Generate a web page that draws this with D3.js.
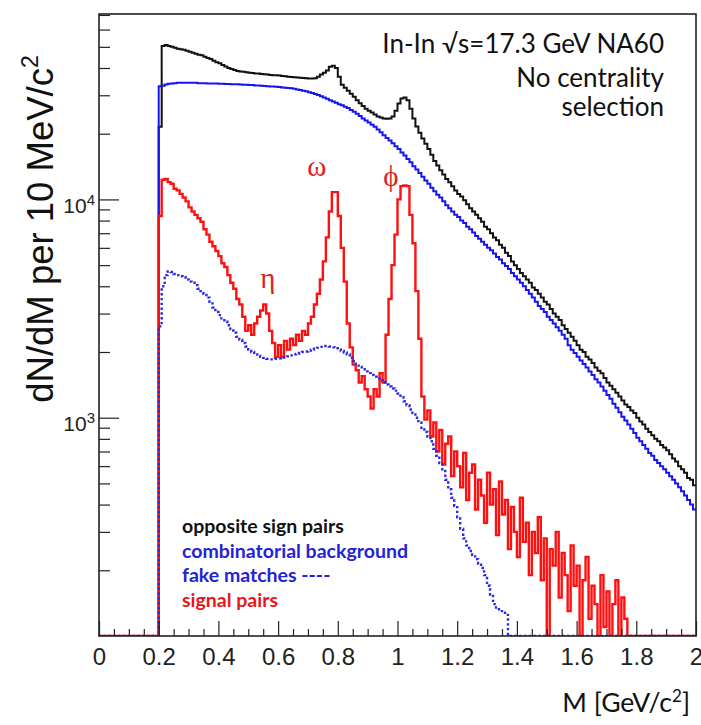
<!DOCTYPE html>
<html>
<head>
<meta charset="utf-8">
<script src="https://cdn.jsdelivr.net/npm/d3@7"></script>
<style>
  html, body { margin: 0; padding: 0; background: #fff; }
  svg { display: block; }
</style>
</head>
<body>
<svg id="chart" width="701" height="725"></svg>
<script>
// Dimuon invariant-mass spectra, 10 MeV bins from 0.20 to 2.00 GeV/c^2
const binStart = 0.20;
const binWidth = 0.01;

// opposite sign pairs
const oppositeSign = [
  21500, 50500, 51000, 50500, 50000, 49500, 49000, 48800, 48500, 48000,
  47500, 47000, 46500, 46000, 45800, 45000, 44500, 44000, 43200, 42500,
  42000, 41300, 40600, 40000, 39600, 39200, 38800, 38500, 38400, 38200,
  38000, 37900, 37700, 37700, 37500, 37400, 37300, 37200, 37100, 37100,
  37000, 36800, 36700, 36500, 36400, 36300, 36200, 36100, 36000, 35900,
  35800, 35800, 35900, 36500, 37300, 38000, 39000, 40500, 41000, 40000,
  36500, 33500, 32500, 31500, 30500, 29500, 28500, 27600, 26800, 26000,
  25500, 25000, 24500, 24000, 23700, 23500, 23400, 23500, 24000, 25500,
  27500, 29000, 29300, 28500, 26000, 23500, 21600, 20200, 19000, 18000,
  17000, 16000, 15000, 14300, 13600, 13000, 12400, 12000, 11500, 11000,
  10600, 10300, 9900, 9500, 9100, 8800, 8500, 8200, 7900, 7500,
  7300, 7000, 6700, 6500, 6200, 6000, 5700, 5500, 5200, 5000,
  4800, 4600, 4450, 4300, 4150, 3950, 3850, 3700, 3550, 3400,
  3300, 3150, 3000, 2900, 2800, 2650, 2550, 2450, 2350, 2250,
  2150, 2050, 2000, 1900, 1850, 1780, 1700, 1640, 1600, 1520,
  1450, 1400, 1350, 1300, 1250, 1200, 1150, 1120, 1080, 1050,
  1000, 960, 930, 890, 860, 830, 800, 780, 750, 730,
  710, 680, 650, 630, 600, 580, 560, 530, 520, 490
];

// combinatorial background
const combinatorial = [
  33000, 33200, 33600, 33900, 34000, 34100, 34200, 34200, 34200, 34200,
  34200, 34200, 34200, 34100, 34100, 34100, 34000, 34000, 34000, 34000,
  33900, 33900, 33800, 33800, 33700, 33700, 33700, 33600, 33500, 33500,
  33400, 33400, 33300, 33300, 33200, 33100, 33000, 32900, 32900, 32800,
  32700, 32600, 32500, 32400, 32300, 32100, 31900, 31700, 31500, 31300,
  31000, 30700, 30400, 30100, 29700, 29300, 28900, 28500, 28100, 27700,
  27300, 27000, 26600, 26200, 25700, 25200, 24700, 24100, 23500, 23000,
  22500, 22000, 21500, 20900, 20300, 19700, 19100, 18600, 18100, 17500,
  17000, 16400, 15900, 15300, 14800, 14200, 13700, 13200, 12700, 12200,
  11800, 11300, 10900, 10500, 10200, 9800, 9400, 9100, 8800, 8500,
  8300, 8000, 7800, 7500, 7300, 7050, 6800, 6600, 6400, 6200,
  6000, 5850, 5650, 5450, 5300, 5100, 4950, 4800, 4600, 4450,
  4300, 4150, 4000, 3850, 3700, 3550, 3400, 3250, 3150, 3050,
  2900, 2800, 2700, 2600, 2500, 2400, 2300, 2150, 2050, 1980,
  1900, 1830, 1760, 1700, 1630, 1570, 1500, 1450, 1390, 1330,
  1270, 1220, 1160, 1110, 1060, 1010, 970, 930, 890, 850,
  810, 780, 750, 720, 690, 670, 640, 620, 600, 580,
  560, 540, 520, 500, 480, 460, 440, 420, 400, 380
];

// fake matches
const fakeMatches = [
  2620, 4000, 4500, 4680, 4650, 4550, 4500, 4450, 4400, 4300,
  4200, 4150, 4050, 3900, 3800, 3700, 3550, 3400, 3200, 3050,
  2950, 2850, 2750, 2650, 2550, 2450, 2350, 2280, 2200, 2120,
  2050, 2000, 1950, 1920, 1900, 1880, 1860, 1850, 1850, 1860,
  1870, 1880, 1900, 1910, 1930, 1950, 1960, 1980, 2000, 2010,
  2030, 2050, 2070, 2090, 2110, 2130, 2130, 2120, 2100, 2080,
  2050, 2020, 1990, 1950, 1880, 1820, 1760, 1710, 1670, 1630,
  1600, 1570, 1540, 1510, 1480, 1450, 1420, 1390, 1360, 1330,
  1290, 1240, 1190, 1140, 1090, 1050, 1000, 950, 900, 860,
  820, 780, 720, 670, 620, 570, 520, 470, 430, 395,
  350, 310, 280, 260, 245, 235, 225, 215, 205, 190,
  170, 155, 140, 135, 130, 128, 125, 0, 0, 0,
  0, 0, 0, 0, 0, 0, 0, 0, 0, 0,
  0, 0, 0, 0, 0, 0, 0, 0, 0, 0,
  0, 0, 0, 0, 0, 0, 0, 0, 0, 0,
  0, 0, 0, 0, 0, 0, 0, 0, 0, 0,
  0, 0, 0, 0, 0, 0, 0, 0, 0, 0,
  0, 0, 0, 0, 0, 0, 0, 0, 0, 0
];

// signal pairs
const signal = [
  8400, 12300, 12400, 12000, 11800, 11200, 11000, 10600, 10200, 9800,
  9200, 8800, 8500, 8200, 7900, 7300, 6900, 6400, 6100, 5800,
  5500, 5100, 4900, 4500, 4150, 3900, 3500, 3300, 2900, 2500,
  2650, 2400, 2700, 2900, 3100, 3300, 3000, 2500, 2200, 1900,
  2150, 1900, 2250, 2050, 2300, 2150, 2400, 2250, 2500, 2400,
  2700, 2900, 3300, 3700, 4300, 5200, 6700, 8800, 10800, 10800,
  8400, 6000, 4200, 2700, 2100, 1750, 1650, 1450, 1550, 1350,
  1250, 1100, 1350, 1250, 1600, 1450, 2400, 3500, 5000, 6900,
  10000, 11500, 11600, 11500, 8500, 6300, 3800, 2300, 1250, 980,
  1080, 820, 950, 700, 880, 610, 760, 820, 540, 700,
  600, 480, 690, 420, 560, 610, 380, 520, 440, 330,
  560, 400, 470, 290, 510, 360, 420, 250, 390, 300,
  230, 430, 270, 330, 190, 300, 240, 350, 180, 280,
  60, 250, 210, 300, 150, 240, 190, 130, 260, 170,
  210, 60, 180, 230, 120, 170, 140, 60, 190, 110,
  160, 60, 140, 180, 60, 150, 120, 0, 0, 0,
  0, 0, 0, 0, 0, 0, 0, 0, 0, 0,
  0, 0, 0, 0, 0, 0, 0, 0, 0, 0
];

const xMajorTicks = [0, 0.2, 0.4, 0.6, 0.8, 1, 1.2, 1.4, 1.6, 1.8, 2];
const yLabelTicks = [1e3, 1e4];

const legendItems = [
  { label: "opposite sign pairs", color: "#111111" },
  { label: "combinatorial background", color: "#2323d6" },
  { label: "fake matches ----", color: "#2323d6" },
  { label: "signal pairs", color: "#e8161b" }
];

const infoLines = ["In-In \u221As=17.3 GeV NA60", "No centrality", "selection"];

const resonances = [
  { name: "\u03c9", m: 0.73, v: 12740 },
  { name: "\u03d5", m: 0.978, v: 11470 },
  { name: "\u03b7", m: 0.566, v: 3910 }
];

// ---------------------------------------------------------------
const svg = d3.select("#chart");
const frame = { left: 99, right: 696, top: 14, bottom: 636 };

const x = d3.scaleLinear().domain([0, 2]).range([frame.left, frame.right]);
const y = d3.scaleLog().domain([100, 70700]).range([frame.bottom, frame.top]).clamp(true);
const yFloor = y.domain()[0];

svg.append("defs").append("clipPath").attr("id", "plotClip")
  .append("rect")
  .attr("x", frame.left).attr("y", frame.top)
  .attr("width", frame.right - frame.left).attr("height", frame.bottom - frame.top);

// Step-histogram outline, starting on the floor at M = 0
function histPoints(values) {
  const pts = [[0, yFloor], [binStart, yFloor]];
  values.forEach((v, i) => pts.push([binStart + i * binWidth, Math.max(v, yFloor)]));
  pts.push([binStart + values.length * binWidth, Math.max(values[values.length - 1], yFloor)]);
  return pts;
}

const line = d3.line()
  .x(d => x(d[0]))
  .y(d => y(d[1]))
  .curve(d3.curveStepAfter);

const plot = svg.append("g").attr("clip-path", "url(#plotClip)");

plot.append("path").attr("d", line(histPoints(oppositeSign)))
  .attr("fill", "none").attr("stroke", "#111").attr("stroke-width", 2);
plot.append("path").attr("d", line(histPoints(combinatorial)))
  .attr("fill", "none").attr("stroke", "#1515f0").attr("stroke-width", 2);
plot.append("path").attr("d", line(histPoints(signal)))
  .attr("fill", "none").attr("stroke", "#ff1010").attr("stroke-width", 2.4);
plot.append("path").attr("d", line(histPoints(fakeMatches)))
  .attr("fill", "none").attr("stroke", "#2a2ae0").attr("stroke-width", 2.4)
  .attr("stroke-dasharray", "2.4,2.4");

// Axes with ticks pointing into the frame
const xMinor = d3.range(0, 2.0001, 0.05).filter(t => Math.abs(t / 0.2 - Math.round(t / 0.2)) > 1e-6);

svg.append("g")
  .attr("transform", `translate(0,${frame.bottom})`)
  .call(d3.axisBottom(x).tickValues(xMinor).tickSize(-7).tickFormat(""))
  .call(g => g.select(".domain").remove())
  .call(g => g.selectAll("line").attr("stroke", "#222").attr("stroke-width", 1.2));

const xAxis = svg.append("g")
  .attr("transform", `translate(0,${frame.bottom})`)
  .call(d3.axisBottom(x).tickValues(xMajorTicks).tickSize(-15).tickPadding(12)
    .tickFormat(d => d3.format("")(+d.toFixed(1))))
  .call(g => g.select(".domain").remove());
xAxis.selectAll("line").attr("stroke", "#222").attr("stroke-width", 1.2);
xAxis.selectAll("text")
  .attr("font-family", "Liberation Sans, Arial, sans-serif")
  .attr("font-size", 24).attr("fill", "#222");

const yMinor = [];
[100, 1000, 10000].forEach(dec => {
  for (let k = 2; k <= 9; k++) {
    const v = k * dec;
    if (v < y.domain()[1]) yMinor.push(v);
  }
});

svg.append("g")
  .attr("transform", `translate(${frame.left},0)`)
  .call(d3.axisLeft(y).tickValues(yMinor).tickSize(-11).tickFormat(""))
  .call(g => g.select(".domain").remove())
  .call(g => g.selectAll("line").attr("stroke", "#222").attr("stroke-width", 1.2));

const yAxis = svg.append("g")
  .attr("transform", `translate(${frame.left},0)`)
  .call(d3.axisLeft(y).tickValues(yLabelTicks).tickSize(-20).tickFormat(""))
  .call(g => g.select(".domain").remove());
yAxis.selectAll("line").attr("stroke", "#222").attr("stroke-width", 1.2);
yAxis.selectAll(".tick").each(function (d) {
  const t = d3.select(this).append("text")
    .attr("x", -4).attr("y", 13)
    .attr("text-anchor", "end")
    .attr("font-family", "Liberation Sans, Arial, sans-serif")
    .attr("font-size", 21).attr("fill", "#222");
  t.append("tspan").text("10");
  t.append("tspan").attr("font-size", 15).attr("dy", -8).text(String(Math.round(Math.log10(d))));
});

// Frame
svg.append("rect")
  .attr("x", frame.left).attr("y", frame.top)
  .attr("width", frame.right - frame.left).attr("height", frame.bottom - frame.top)
  .attr("fill", "none").attr("stroke", "#222").attr("stroke-width", 1.6);

// Axis titles
const yTitle = svg.append("text")
  .attr("transform", "translate(53,229) rotate(-90)")
  .attr("text-anchor", "middle")
  .attr("font-family", "Liberation Sans, Arial, sans-serif")
  .attr("font-size", 36.5).attr("fill", "#111");
yTitle.append("tspan").text("dN/dM per 10 MeV/c");
yTitle.append("tspan").attr("font-size", 23).attr("dy", -15).text("2");

const xTitle = svg.append("text")
  .attr("x", 690).attr("y", 712)
  .attr("text-anchor", "end")
  .attr("font-family", "Lato, Open Sans, sans-serif")
  .attr("font-size", 26.5).attr("fill", "#111");
xTitle.append("tspan").text("M [GeV/c");
xTitle.append("tspan").attr("font-size", 17).attr("dy", -10).text("2");
xTitle.append("tspan").attr("dy", 10).text("]");

// Run information
svg.append("g").selectAll("text").data(infoLines).join("text")
  .attr("x", 664).attr("y", (d, i) => [53, 87, 116][i])
  .attr("text-anchor", "end")
  .attr("font-family", "Lato, Open Sans, sans-serif")
  .attr("font-size", 26).attr("fill", "#111")
  .text(d => d);

// Resonance labels near their peaks
svg.append("g").selectAll("text").data(resonances).join("text")
  .attr("x", d => x(d.m)).attr("y", d => y(d.v))
  .attr("text-anchor", "middle")
  .attr("font-family", "Liberation Serif, DejaVu Serif, serif")
  .attr("font-size", 29).attr("fill", "#e01e1e")
  .text(d => d.name);

// Legend
svg.append("g").selectAll("text").data(legendItems).join("text")
  .attr("x", 182).attr("y", (d, i) => 533 + i * 24.5)
  .attr("font-family", "Lato, Open Sans, sans-serif")
  .attr("font-weight", "bold")
  .attr("font-size", 19.5).attr("fill", d => d.color)
  .text(d => d.label);
</script>
</body>
</html>
